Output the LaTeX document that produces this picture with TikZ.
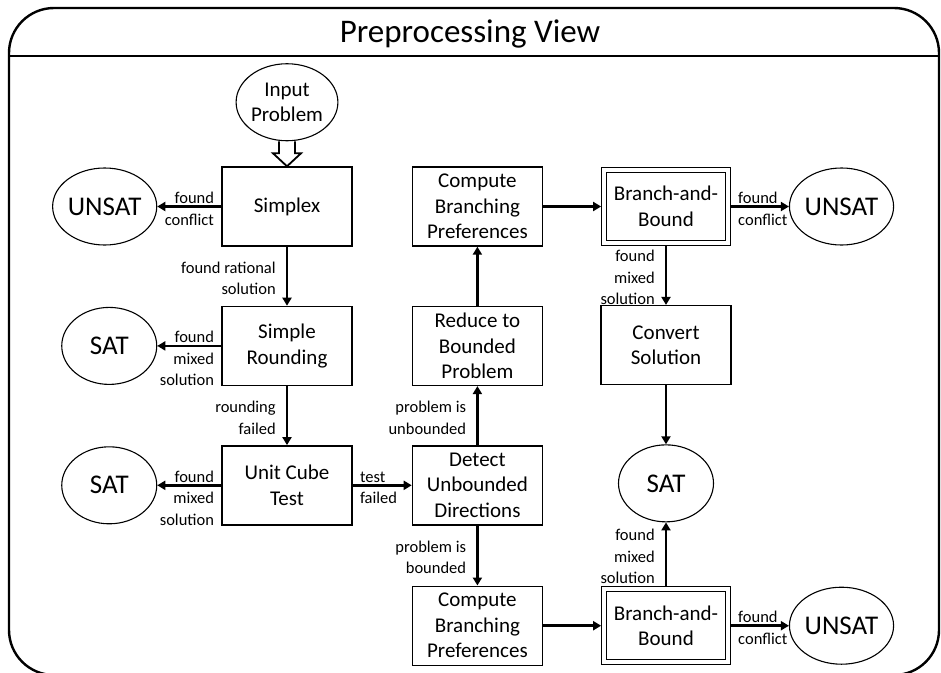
\documentclass[tikz,border=0pt]{standalone}
\usepackage{fontspec}
\setmainfont{Carlito}
\usepackage{xcolor}
\usepackage{tikz}
\usetikzlibrary{shapes.geometric, arrows.meta, positioning, calc}
\definecolor{ink}{RGB}{0, 0, 0}
\definecolor{paper}{RGB}{255, 255, 255}
\tikzset{
    stage/.style={rectangle, draw=ink, fill=paper, line width=1.4pt, align=center, minimum width=130pt, minimum height=79pt, inner sep=2pt, font=\fontsize{21}{25.5}\selectfont},
    bnb/.style={stage, double, line width=1.1pt, double distance=3.6pt, outer sep=2.9pt, minimum width=124pt, minimum height=73pt},
    verdict/.style={ellipse, draw=ink, fill=paper, line width=1.1pt, minimum width=95pt, minimum height=77pt, inner sep=0pt, font=\fontsize{27}{32}\selectfont},
    source/.style={verdict, align=center, font=\fontsize{21}{25.5}\selectfont},
    arrow/.style={-{Triangle[length=8pt, width=9pt]}, line width=2.6pt, color=ink},
    hollow/.style={line width=1.8pt, color=ink, line join=miter},
    edgelabel/.style={font=\fontsize{16.5}{21.5}\selectfont, inner sep=0pt, color=ink},
    % #1 = number of text lines, first baseline sits just above the line
    leftlabel/.style={edgelabel, align=right, anchor=base east, pos=0, xshift=-6pt, yshift=3pt-(#1-1)*21.5pt},
    rightlabel/.style={edgelabel, align=left, anchor=base west, pos=0, xshift=6pt, yshift=3pt-(#1-1)*21.5pt},
    sidelabel/.style={edgelabel, align=right, anchor=east, midway, xshift=-10pt, yshift=-2pt},
    frame/.style={line width=2.4pt, draw=ink, rounded corners=45pt}
}

\begin{document}
\begin{tikzpicture}[x=1pt, y=-1pt, node distance=59pt and 59pt]
    \useasboundingbox (0,0) rectangle (941,672);

    % Outer Frame
    \draw [frame] (9,8) rectangle (939,675);
    \coordinate (bandL) at (9,56);
    \coordinate (bandR) at (939,56);
    \draw [line width=2.2pt, color=ink] (bandL) -- (bandR);

    % View Title
    \node (title) at (470,34) [font=\fontsize{33}{40}\selectfont] {Preprocessing View};

    % Left Column
    \node (simplex) at (287,206.5) [stage] {Simplex};
    \node (input) [source, above=25pt of simplex] {Input\\Problem};
    \node (rounding) [stage, below=of simplex] {Simple\\Rounding};
    \node (cube) [stage, below=of rounding] {Unit Cube\\Test};

    % Early Outcomes
    \node (unsatA) [verdict, left=64pt of simplex] {UNSAT};
    \node (satA) [verdict, left=64pt of rounding] {SAT};
    \node (satB) [verdict, left=64pt of cube] {SAT};

    % Middle Column
    \node (detect) [stage, right=of cube] {Detect\\Unbounded\\Directions};
    \node (reduce) [stage, above=of detect] {Reduce to\\Bounded\\Problem};
    \node (prefA) [stage, above=of reduce] {Compute\\Branching\\Preferences};
    \node (prefB) [stage, below=60pt of detect] {Compute\\Branching\\Preferences};

    % Right Column
    \node (bnbA) [bnb, right=58pt of prefA] {Branch-and-\\Bound};
    \node (unsatB) [verdict, right=58pt of bnbA] {UNSAT};
    \node (convert) [stage, below=of bnbA] {Convert\\Solution};
    \node (satC) [verdict, below=of convert] {SAT};
    \node (bnbB) [bnb, right=58pt of prefB] {Branch-and-\\Bound};
    \node (unsatC) [verdict, right=58pt of bnbB] {UNSAT};

    % Paths: Main Sequence
    \draw [hollow] ($(input.south)+(-8,0)$) -- ($(simplex.north)+(-8,-13)$) -- ++(-6,0) -- (simplex.north) -- ++(14,-13) -- ++(-6,0) -- ($(input.south)+(8,0)$);
    \draw [arrow] (simplex) -- (rounding) node [sidelabel] {found rational\\solution};
    \draw [arrow] (rounding) -- (cube) node [sidelabel] {rounding\\failed};
    \draw [arrow] (cube) -- (detect) node [rightlabel=2] {test\\failed};
    \draw [arrow] (detect) -- (reduce) node [sidelabel] {problem is\\unbounded};
    \draw [arrow] (reduce) -- (prefA);
    \draw [arrow] (detect) -- (prefB) node [sidelabel] {problem is\\bounded};
    \draw [arrow] (prefA) -- (bnbA);
    \draw [arrow] (prefB) -- (bnbB);
    \draw [arrow] (bnbA) -- (convert) node [sidelabel] {found\\mixed\\solution};
    \draw [arrow] (convert) -- (satC);
    \draw [arrow] (bnbB) -- (satC) node [sidelabel] {found\\mixed\\solution};

    % Paths: Early Exits
    \draw [arrow] (simplex) -- (unsatA) node [leftlabel=2] {found\\conflict};
    \draw [arrow] (rounding) -- (satA) node [leftlabel=3] {found\\mixed\\solution};
    \draw [arrow] (cube) -- (satB) node [leftlabel=3] {found\\mixed\\solution};
    \draw [arrow] (bnbA) -- (unsatB) node [rightlabel=2] {found\\conflict};
    \draw [arrow] (bnbB) -- (unsatC) node [rightlabel=2] {found\\conflict};

\end{tikzpicture}
\end{document}
